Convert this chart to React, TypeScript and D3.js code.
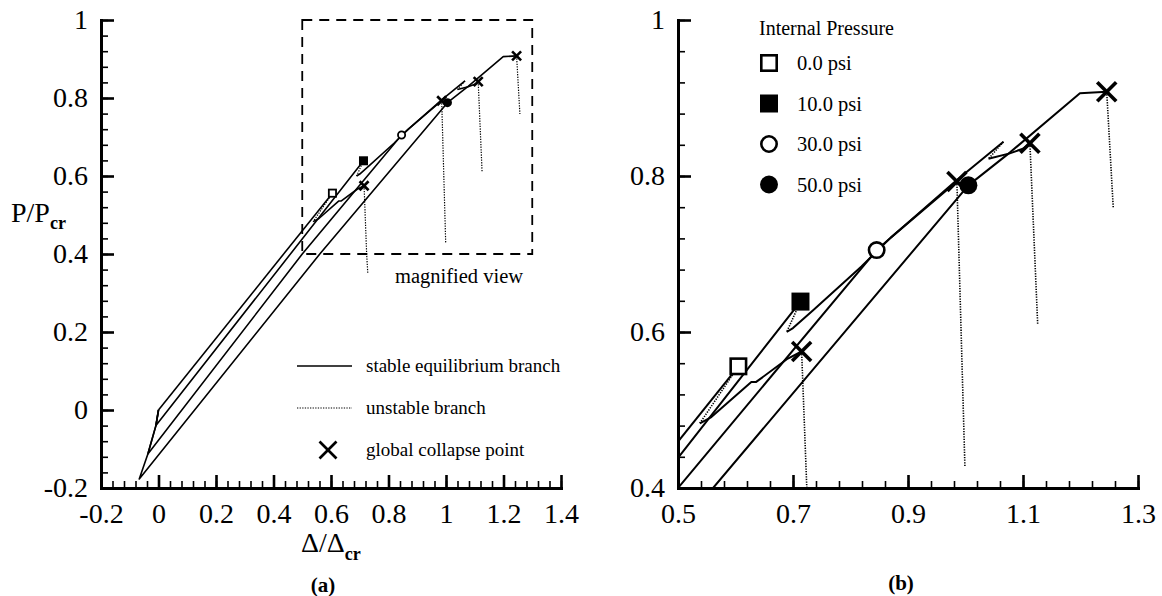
import { useEffect, useRef } from 'react'
import { axisBottom, axisLeft, line, range, scaleLinear, select } from 'd3'
import type { ScaleLinear } from 'd3'

type Pt = [number, number]

// pressurization + prebuckling path for each internal pressure (ends at bifurcation)
const prebuckling0psi: Pt[] = [[0, 0], [0.605, 0.556]]
const prebuckling10psi: Pt[] = [[0, 0], [-0.009, -0.04], [0.713, 0.639]]
const prebuckling30psi: Pt[] = [[0, 0], [-0.009, -0.04], [-0.037, -0.113], [0.5, 0.4], [0.8455, 0.705]]
const prebuckling50psi: Pt[] = [[0, 0], [-0.009, -0.04], [-0.037, -0.113], [-0.067, -0.177], [0.561, 0.4], [1.005, 0.788]]

// stable post-buckling branches
const postbuckling0psi: Pt[] = [[0.538, 0.483], [0.558, 0.491], [0.6275, 0.536], [0.636, 0.536], [0.691, 0.566], [0.715, 0.575]]
const postbuckling10psi: Pt[] = [[0.689, 0.6], [0.7, 0.605], [0.735, 0.628], [0.819, 0.684], [0.87, 0.721], [0.985, 0.793]]
const postbuckling30psi: Pt[] = [[0.8455, 0.705], [0.985, 0.795], [1.066, 0.844]]
const postbuckling30psiB: Pt[] = [[1.04, 0.822], [1.077, 0.829], [1.1, 0.835], [1.112, 0.842]]
const postbuckling50psi: Pt[] = [[1.005, 0.788], [1.077, 0.83], [1.199, 0.906], [1.2456, 0.908]]

// unstable branches
const snap0psi: Pt[] = [[0.605, 0.556], [0.538, 0.483]]
const snap10psi: Pt[] = [[0.713, 0.639], [0.689, 0.6]]
const snap30psi: Pt[] = [[1.066, 0.844], [1.04, 0.822]]
const collapse0psi: Pt[] = [[0.715, 0.575], [0.724, 0.4], [0.728, 0.35]]
const collapse10psi: Pt[] = [[0.985, 0.793], [0.999, 0.427]]
const collapse30psi: Pt[] = [[1.112, 0.842], [1.1256, 0.609]]
const collapse50psi: Pt[] = [[1.2456, 0.908], [1.257, 0.759]]

const pressureLabels = ['0.0 psi', '10.0 psi', '30.0 psi', '50.0 psi']

const leftXTicks = [-0.2, 0, 0.2, 0.4, 0.6, 0.8, 1, 1.2, 1.4]
const leftYTicks = [-0.2, 0, 0.2, 0.4, 0.6, 0.8, 1]
const rightXTicks = [0.5, 0.7, 0.9, 1.1, 1.3]
const rightYTicks = [0.4, 0.6, 0.8, 1]
const minorStep = 0.04

const FONT = '"Liberation Serif", "Times New Roman", serif'

type Kind = 'openSquare' | 'filledSquare' | 'openCircle' | 'filledCircle' | 'cross'
const markerKinds: Kind[] = ['openSquare', 'filledSquare', 'openCircle', 'filledCircle']

const prebuckling = [prebuckling0psi, prebuckling10psi, prebuckling30psi, prebuckling50psi]
const stableBranches = [
  ...prebuckling,
  postbuckling0psi,
  postbuckling10psi,
  postbuckling30psi,
  postbuckling30psiB,
  postbuckling50psi,
]
const collapseBranches = [collapse0psi, collapse10psi, collapse30psi, collapse50psi]
const unstableBranches = [snap0psi, snap10psi, snap30psi, ...collapseBranches]

function Marker({ kind, x, y, size, sw }: { kind: Kind; x: number; y: number; size: number; sw: number }) {
  const h = size / 2
  if (kind === 'openSquare' || kind === 'filledSquare') {
    const open = kind === 'openSquare'
    const inset = open ? sw / 2 : 0
    return (
      <rect
        x={x - h + inset}
        y={y - h + inset}
        width={size - 2 * inset}
        height={size - 2 * inset}
        fill={open ? '#fff' : '#000'}
        stroke={open ? '#000' : 'none'}
        strokeWidth={sw}
      />
    )
  }
  if (kind === 'openCircle' || kind === 'filledCircle') {
    const open = kind === 'openCircle'
    return (
      <circle
        cx={x}
        cy={y}
        r={open ? h - sw / 2 : h}
        fill={open ? '#fff' : '#000'}
        stroke={open ? '#000' : 'none'}
        strokeWidth={sw}
      />
    )
  }
  return (
    <g stroke="#000" strokeWidth={sw} strokeLinecap="butt">
      <line x1={x - h} y1={y - h} x2={x + h} y2={y + h} />
      <line x1={x - h} y1={y + h} x2={x + h} y2={y - h} />
    </g>
  )
}

function Axis({
  scale,
  orient,
  major,
  minor,
  transform,
}: {
  scale: ScaleLinear<number, number>
  orient: 'bottom' | 'left'
  major: number[]
  minor: number[]
  transform: string
}) {
  const ref = useRef<SVGGElement>(null)

  useEffect(() => {
    if (!ref.current) return
    const g = select(ref.current)
    g.selectAll('*').remove()
    const make = orient === 'bottom' ? axisBottom : axisLeft

    const minorG = g.append('g')
    minorG.call(make(scale).tickValues(minor).tickSize(-7).tickSizeOuter(0).tickFormat(() => ''))
    minorG.select('.domain').remove()
    minorG.selectAll('line').attr('stroke-width', 1.6)

    const majorG = g.append('g')
    majorG.call(
      make(scale)
        .tickValues(major)
        .tickSize(-13)
        .tickSizeOuter(0)
        .tickPadding(orient === 'bottom' ? 15 : 13)
        .tickFormat((d) => String(+Number(d).toFixed(2))),
    )
    majorG.select('.domain').attr('stroke-width', 3).attr('stroke-linecap', 'square')
    majorG.selectAll('line').attr('stroke-width', 2.6)
    majorG
      .selectAll('text')
      .attr('font-family', FONT)
      .attr('font-size', 28)
      .attr('fill', '#000')
  }, [scale, orient, major, minor])

  return <g ref={ref} transform={transform} />
}

function Panel({
  x,
  y,
  id,
  curveWidth,
  dotWidth,
  markerSize,
  crossSize,
  markerStroke,
  crossStroke,
}: {
  x: ScaleLinear<number, number>
  y: ScaleLinear<number, number>
  id: string
  curveWidth: number
  dotWidth: number
  markerSize: number
  crossSize: number
  markerStroke: number
  crossStroke: number
}) {
  const [x0, x1] = x.range()
  const [y0, y1] = y.range()
  const path = line<Pt>()
    .x((d) => x(d[0]))
    .y((d) => y(d[1]))

  return (
    <g>
      <defs>
        <clipPath id={id}>
          <rect x={x0} y={y1} width={x1 - x0} height={y0 - y1} />
        </clipPath>
      </defs>
      <g clipPath={`url(#${id})`} fill="none" stroke="#000">
        {unstableBranches.map((d, i) => (
          <path key={`u${i}`} d={path(d) ?? ''} strokeWidth={dotWidth} strokeDasharray="1.3 1.3" />
        ))}
        {stableBranches.map((d, i) => (
          <path key={`s${i}`} d={path(d) ?? ''} strokeWidth={curveWidth} strokeLinejoin="round" />
        ))}
      </g>
      <g clipPath={`url(#${id})`}>
        {prebuckling.map((d, i) => {
          const p = d[d.length - 1]
          return (
            <Marker
              key={`m${i}`}
              kind={markerKinds[i]}
              x={x(p[0])}
              y={y(p[1])}
              size={markerSize}
              sw={markerStroke}
            />
          )
        })}
        {collapseBranches.map((d, i) => (
          <Marker key={`c${i}`} kind="cross" x={x(d[0][0])} y={y(d[0][1])} size={crossSize} sw={crossStroke} />
        ))}
      </g>
    </g>
  )
}

export default function App() {
  useEffect(() => {
    document.body.style.margin = '0'
  }, [])

  const xLeft = scaleLinear().domain([-0.2, 1.4]).range([101, 561])
  const yLeft = scaleLinear().domain([-0.2, 1]).range([488, 20])
  const xRight = scaleLinear().domain([0.5, 1.3]).range([678, 1138])
  const yRight = scaleLinear().domain([0.4, 1]).range([488, 20])

  const leftXMinor = range(-0.2, 1.4001, minorStep)
  const leftYMinor = range(-0.2, 1.0001, minorStep)
  const rightXMinor = range(0.5, 1.3001, minorStep)
  const rightYMinor = range(0.4, 1.0001, minorStep)

  return (
    <svg
      width={1162}
      height={596}
      viewBox="0 0 1162 596"
      style={{ display: 'block', background: '#fff', fontFamily: FONT }}
    >
      {/* (a) full view */}
      <rect
        x={xLeft(0.5)}
        y={yLeft(1)}
        width={xLeft(1.3) - xLeft(0.5)}
        height={yLeft(0.4) - yLeft(1)}
        fill="none"
        stroke="#000"
        strokeWidth={1.8}
        strokeDasharray="10 7"
      />
      <text x={395} y={283} fontSize={20.5}>
        magnified view
      </text>
      <Panel
        x={xLeft}
        y={yLeft}
        id="clipLeft"
        curveWidth={1.6}
        dotWidth={1.2}
        markerSize={9}
        crossSize={9}
        markerStroke={1.8}
        crossStroke={2.6}
      />
      <Axis scale={xLeft} orient="bottom" major={leftXTicks} minor={leftXMinor} transform="translate(0,488)" />
      <Axis scale={yLeft} orient="left" major={leftYTicks} minor={leftYMinor} transform="translate(101,0)" />

      <text x={11} y={222} fontSize={28}>
        P/P
        <tspan fontSize={18} fontWeight="bold" dy={7}>
          cr
        </tspan>
      </text>
      <text x={301} y={552} fontSize={28}>
        Δ/Δ
        <tspan fontSize={18} fontWeight="bold" dy={8}>
          cr
        </tspan>
      </text>

      {/* legend (a) */}
      <line x1={297} x2={352} y1={366} y2={366} stroke="#000" strokeWidth={1.5} />
      <text x={366} y={372} fontSize={19}>
        stable equilibrium branch
      </text>
      <line x1={297} x2={352} y1={408} y2={408} stroke="#000" strokeWidth={1.2} strokeDasharray="1.3 1.3" />
      <text x={366} y={414} fontSize={19}>
        unstable branch
      </text>
      <Marker kind="cross" x={328} y={450} size={17} sw={2.6} />
      <text x={366} y={456} fontSize={19}>
        global collapse point
      </text>
      <text x={323} y={592} fontSize={21} fontWeight="bold" textAnchor="middle">
        (a)
      </text>

      {/* (b) magnified view */}
      <Panel
        x={xRight}
        y={yRight}
        id="clipRight"
        curveWidth={2}
        dotWidth={1.6}
        markerSize={18}
        crossSize={19}
        markerStroke={2.6}
        crossStroke={3.6}
      />
      <Axis scale={xRight} orient="bottom" major={rightXTicks} minor={rightXMinor} transform="translate(0,488)" />
      <Axis scale={yRight} orient="left" major={rightYTicks} minor={rightYMinor} transform="translate(678,0)" />

      {/* legend (b) */}
      <text x={759} y={35} fontSize={20}>
        Internal Pressure
      </text>
      {pressureLabels.map((label, i) => (
        <g key={label}>
          <Marker kind={markerKinds[i]} x={769} y={63 + i * 40.5} size={18} sw={2.6} />
          <text x={797} y={70 + i * 40.5} fontSize={20.5}>
            {label}
          </text>
        </g>
      ))}
      <text x={901} y={590} fontSize={21} fontWeight="bold" textAnchor="middle">
        (b)
      </text>
    </svg>
  )
}
